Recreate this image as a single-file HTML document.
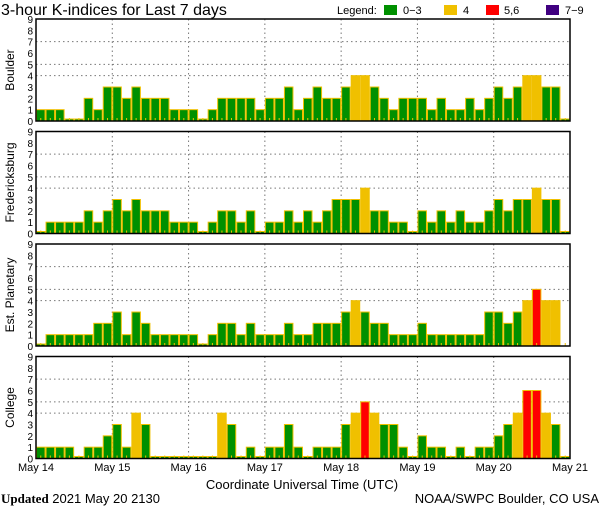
<!DOCTYPE html>
<html><head><meta charset="utf-8"><style>
html,body{margin:0;padding:0;background:#fff;}
svg{display:block;font-family:"Liberation Sans",sans-serif;}
</style></head><body>
<svg id="chart" width="600" height="510" viewBox="0 0 600 510" xmlns="http://www.w3.org/2000/svg">
<text x="1" y="15" font-size="16" fill="#000">3-hour K-indices for Last 7 days</text>
<g font-size="11" fill="#000">
<text x="337" y="14">Legend:</text>
<rect x="384" y="5" width="13" height="10" fill="#009000"/>
<text x="403" y="14">0−3</text>
<rect x="444" y="5" width="13" height="10" fill="#f0c000"/>
<text x="463" y="14">4</text>
<rect x="486" y="5" width="13" height="10" fill="#ff0000"/>
<text x="504" y="14">5,6</text>
<rect x="546" y="5" width="13" height="10" fill="#400080"/>
<text x="565" y="14">7−9</text>
</g>
<g id="panels"></g>
<text x="302" y="489" font-size="13" text-anchor="middle" fill="#000">Coordinate Universal Time (UTC)</text>
<text x="1" y="503" font-size="13" fill="#000"><tspan font-family="Liberation Serif,serif" font-weight="bold">Updated</tspan> 2021 May 20 2130</text>
<text x="599" y="503" font-size="13" text-anchor="end" fill="#000">NOAA/SWPC Boulder, CO USA</text>
</svg>
<script>
const stations = ["Boulder","Fredericksburg","Est. Planetary","College"];
const boulder = [1,1,1,0,0,2,1,3,3,2,3,2,2,2,1,1,1,0,1,2,2,2,2,1,2,2,3,1, 2,3,2,2,3,4,4,3,2,1,2,2,2,1,2,1,1,2,1,2,3,2,3,4,4,3,3,0];
const fredericksburg = [0,1,1,1,1,2,1,2,3,2,3,2,2,2,1,1,1,0,1,2,2,1,2,0,1,1,2,1, 2,1,2,3,3,3,4,2,2,1,1,0,2,1,2,1,2,1,1,2,3,2,3,3,4,3,3,0];
const planetary = [0,1,1,1,1,1,2,2,3,1,3,2,1,1,1,1,1,0,1,2,2,1,2,1,1,1,2,1, 1,2,2,2,3,4,3,2,2,1,1,1,2,1,1,1,1,1,1,3,3,2,3,4,5,4,4,null];
const college = [1,1,1,1,0,1,1,2,3,1,4,3,0,0,0,0,0,0,0,4,3,0,1,0,1,1,3,1, 0,1,1,1,3,4,5,4,3,3,1,0,2,1,1,0,1,0,1,1,2,3,4,6,6,4,3,0];
const dayLabels = ["May 14","May 15","May 16","May 17","May 18","May 19","May 20","May 21"];
const yTicks = [0,1,2,3,4,5,6,7,8,9];
const gridLevels = [4,5,7];

const series = [boulder,fredericksburg,planetary,college];
const NS="http://www.w3.org/2000/svg";
const X0=36, X1=570, PH=102, tops=[19,131.5,244,356.5];
const N=56;
const bw=(X1-X0)/N;
const xs = i => X0 + i*bw;
const dayX = d => X0 + d*(X1-X0)/7;
function color(v){return v>=7?"#400080":v>=5?"#ff0000":v>=4?"#f0c000":"#009000";}
function mk(tag,attrs,parent){const e=document.createElementNS(NS,tag);for(const k in attrs)e.setAttribute(k,attrs[k]);parent.appendChild(e);return e;}
const root=document.getElementById("panels");
series.forEach((vals,p)=>{
  const top=tops[p], bot=top+PH;
  const ys = v => bot - v*PH/9;
  const g=mk("g",{},root);
  
  
  gridLevels.forEach(l=>{
    const ln=mk("line",{x1:X0,x2:X1,y1:ys(l),y2:ys(l),stroke:"#777","stroke-dasharray":"1.5,3","stroke-width":1},g);
    
    
  });
  for(let d=1;d<7;d++){
    const ln=mk("line",{x1:dayX(d),x2:dayX(d),y1:top,y2:bot,stroke:"#777","stroke-dasharray":"1.5,3","stroke-width":1},g);
    
    
  }
  vals.forEach((v,i)=>{
    const x=xs(i);
    if(v!==null){
      const h=Math.max(v*PH/9,2);
      const r=mk("rect",{x:x+0.5,y:bot-h,width:bw-1,height:h,fill:color(v),stroke:"#f0c000","stroke-width":1},g);
      
      
    }
    const t=mk("line",{x1:x+bw/2,x2:x+bw/2,y1:bot-3,y2:bot,stroke:"#f0c000","stroke-width":1},g);
    
    
  });
  const fr=mk("rect",{x:X0,y:top,width:X1-X0,height:PH,fill:"none",stroke:"#000","stroke-width":1.5},g);
  
  
  yTicks.forEach(t=>{
    const tx=mk("text",{x:33,y:ys(t)+4,"font-size":10,"text-anchor":"end",fill:"#000"},g);
    tx.textContent=t;
    
    
  });
  const cy=top+PH/2;
  const yt=mk("text",{x:14,y:cy,"font-size":12,"text-anchor":"middle",fill:"#000",transform:"rotate(-90 14 "+cy+")"},g);
  yt.textContent=stations[p];
  
  
});
dayLabels.forEach((s,d)=>{
  const tx=mk("text",{x:dayX(d),y:471,"font-size":11,"text-anchor":"middle",fill:"#000"},root);
  tx.textContent=s;
  
  
});
</script>
</body></html>
